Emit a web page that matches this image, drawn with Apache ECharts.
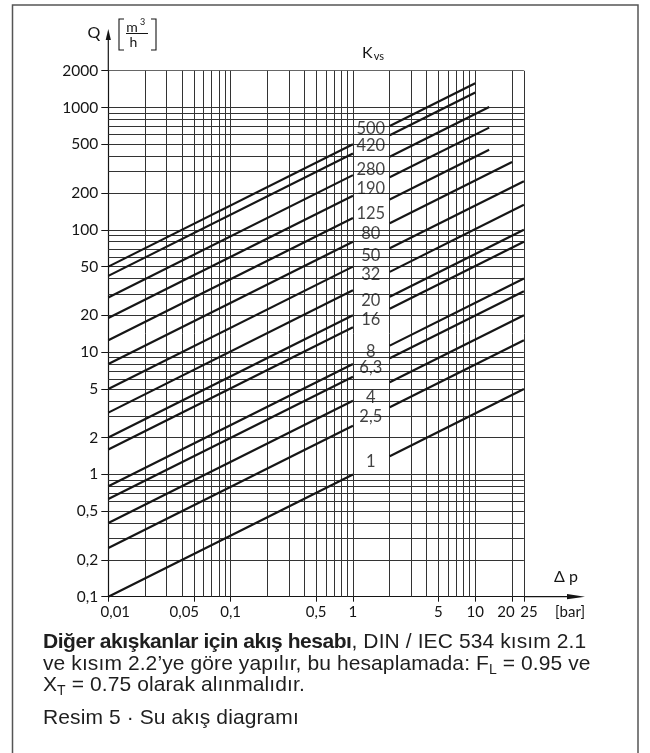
<!DOCTYPE html>
<html>
<head>
<meta charset="utf-8">
<script src="https://cdn.jsdelivr.net/npm/echarts@6/dist/echarts.min.js"></script>
<style>
  html, body { margin: 0; padding: 0; background: #fff; }
  #wrap { position: relative; width: 650px; height: 753px; }
  #chart { position: absolute; left: 0; top: 0; width: 650px; height: 753px; }
  .cap { position: absolute; left: 43px; font-family: 'Liberation Sans', Arial, sans-serif; font-size: 21px; line-height: 21.5px; color: #1e1e1e; white-space: nowrap; letter-spacing: 0.1px; }
  .cap b { letter-spacing: -0.45px; }
  .cap sub { font-size: 14px; vertical-align: -4px; line-height: 0; }
</style>
</head>
<body>
<div id="wrap">
  <div id="chart"></div>
  <div class="cap" style="top:630px"><b>Diğer akışkanlar için akış hesabı</b>, DIN / IEC 534 kısım 2.1<br>ve kısım 2.2’ye göre yapılır, bu hesaplamada: F<sub>L</sub> = 0.95 ve<br>X<sub>T</sub> = 0.75 olarak alınmalıdır.</div>
  <div class="cap" style="top:706px">Resim 5 · Su akış diagramı</div>
</div>
<script>
// ---- data ----
const dpTicks = [0.01, 0.05, 0.1, 0.5, 1, 5, 10, 20, 25];
const qTicks = [0.1, 0.2, 0.5, 1, 2, 5, 10, 20, 50, 100, 200, 500, 1000, 2000];
const dpGrid = [0.02, 0.03, 0.04, 0.05, 0.06, 0.07, 0.08, 0.09,
                0.1, 0.2, 0.3, 0.4, 0.5, 0.6, 0.7, 0.8, 0.9,
                1, 2, 3, 4, 5, 6, 7, 8, 9, 10, 20, 25];
const qGrid = [0.2, 0.3, 0.4, 0.5, 0.6, 0.7, 0.8, 0.9,
               1, 2, 3, 4, 5, 6, 7, 8, 9,
               10, 20, 30, 40, 50, 60, 70, 80, 90,
               100, 200, 300, 400, 500, 600, 700, 800, 900,
               1000, 2000];
const kvsLabels = ['500', '420', '280', '190', '125', '80', '50', '32', '20', '16', '8', '6,3', '4', '2,5', '1'];
const dpStart = 0.01, dpBreak = 1, dpRestart = 2;
const qStart   = [50, 42, 28, 19, 12.5, 8, 5, 3.2, 2, 1.6, 0.8, 0.63, 0.4, 0.25, 0.1];
const qBreak   = [500, 420, 280, 190, 125, 80, 50, 32, 20, 16, 8, 6.3, 4, 2.5, 1];
const qRestart = [707, 594, 396, 269, 177, 113, 70.7, 45.3, 28.3, 22.6, 11.3, 8.9, 5.66, 3.54, 1.41];
const dpEnd    = [10, 10, 13, 13, 13, 20, 25, 25, 25, 25, 25, 25, 25, 25, 25];
const qEnd     = [1581, 1328, 1010, 685, 451, 358, 250, 160, 100, 80, 40, 31.5, 20, 12.5, 5];
const labelDp = 1.4;
const labelQ   = [676, 488, 308, 218, 136, 93.5, 62, 42.7, 26.3, 18.3, 10.1, 7.5, 4.27, 2.97, 1.27];
const gapDp = [1.006, 1.99];
const gapQ = [1.03, 750];
const dpMin = 0.01, dpMax = 25, qMin = 0.1, qMax = 2000;

// ---- layout ----
const GL = 108.3, GT = 70.7, GW = 415.6, GH = 526;
const FONT = 'Lato, "Open Sans", sans-serif';
const INK = '#141414';

const gridCoords = [];
qGrid.forEach(v => gridCoords.push({ coords: [[dpMin, v], [dpMax, v]] }));
dpGrid.forEach(v => gridCoords.push({ coords: [[v, qMin], [v, qMax]] }));

const segs = [];
for (let i = 0; i < kvsLabels.length; i++) {
  segs.push({ coords: [[dpStart, qStart[i]], [dpBreak, qBreak[i]]] });
  segs.push({ coords: [[dpRestart, qRestart[i]], [dpEnd[i], qEnd[i]]] });
}

function fmtNum(v) {
  return String(+v.toPrecision(6)).replace('.', ',');
}

const chart = echarts.init(document.getElementById('chart'), null, { renderer: 'canvas' });

const xAx = GL + GW, yAx = GT + GH;

chart.setOption({
  animation: false,
  backgroundColor: '#fff',
  grid: { left: GL, top: GT, width: GW, height: GH, containLabel: false },
  xAxis: {
    type: 'log', logBase: 10, min: dpMin, max: dpMax,
    axisLine: { show: true, lineStyle: { color: INK, width: 1.2 } },
    axisTick: { show: true, customValues: dpTicks, length: 5, lineStyle: { color: INK, width: 1 } },
    axisLabel: {
      customValues: dpTicks, margin: 8, fontSize: 15, fontFamily: FONT, color: INK, hideOverlap: false,
      formatter: function (v) {
        const s = fmtNum(v);
        if (Math.abs(v - 0.01) < 1e-9) return '{a|' + s + '}';
        if (Math.abs(v - 0.05) < 1e-9) return '{b|' + s + '}';
        if (Math.abs(v - 20) < 1e-9) return '{c|' + s + '}';
        if (Math.abs(v - 25) < 1e-9) return '{d|' + s + '}';
        return s;
      },
      rich: {
        a: { padding: [0, 0, 0, 14], fontSize: 15, fontFamily: FONT, color: INK },
        b: { padding: [0, 19, 0, 0], fontSize: 15, fontFamily: FONT, color: INK },
        c: { padding: [0, 12, 0, 0], fontSize: 15, fontFamily: FONT, color: INK },
        d: { padding: [0, 0, 0, 10], fontSize: 15, fontFamily: FONT, color: INK }
      }
    },
    splitLine: { show: false }
  },
  yAxis: {
    type: 'log', logBase: 10, min: qMin, max: qMax,
    axisLine: { show: true, lineStyle: { color: INK, width: 1.2 } },
    axisTick: { show: true, customValues: qTicks, length: 7, lineStyle: { color: INK, width: 1 } },
    axisLabel: {
      customValues: qTicks, margin: 10, fontSize: 15.5, fontFamily: FONT, color: INK, hideOverlap: false,
      formatter: function (v) { return fmtNum(v); }
    },
    splitLine: { show: false }
  },
  series: [
    {
      type: 'lines', coordinateSystem: 'cartesian2d', silent: true, z: 1,
      lineStyle: { color: '#333', width: 1, opacity: 1 },
      data: gridCoords
    },
    {
      type: 'line', data: [], silent: true, z: 2,
      markArea: {
        silent: true,
        itemStyle: { color: '#fff', opacity: 1 },
        data: [[{ coord: [gapDp[0], gapQ[0]] }, { coord: [gapDp[1], gapQ[1]] }]]
      }
    },
    {
      type: 'lines', coordinateSystem: 'cartesian2d', silent: true, z: 3,
      lineStyle: { color: '#161616', width: 2.2, opacity: 1, cap: 'butt' },
      data: segs
    },
    {
      type: 'scatter', silent: true, z: 4, symbolSize: 0,
      data: labelQ.map(q => [labelDp, q]),
      label: {
        show: true, position: 'inside', fontSize: 16.5, fontFamily: FONT, color: INK,
        formatter: p => kvsLabels[p.dataIndex]
      }
    }
  ],
  graphic: [
    // frame
    { type: 'polyline', silent: true, shape: { points: [[12.5, 753], [12.5, 5], [638, 5], [638, 753]] },
      style: { stroke: '#555', lineWidth: 1.5, fill: null } },
    // y axis extension + arrow
    { type: 'line', silent: true, shape: { x1: GL, y1: GT, x2: GL, y2: 38 }, style: { stroke: INK, lineWidth: 1.2 } },
    { type: 'polygon', silent: true, shape: { points: [[GL, 29], [GL - 2.6, 40], [GL + 2.6, 40]] }, style: { fill: INK } },
    // x axis extension + arrow
    { type: 'line', silent: true, shape: { x1: xAx, y1: yAx, x2: 572, y2: yAx }, style: { stroke: INK, lineWidth: 1.2 } },
    { type: 'polygon', silent: true, shape: { points: [[585, yAx], [567, yAx - 2.6], [567, yAx + 2.6]] }, style: { fill: INK } },
    // Q [m3/h]
    { type: 'text', silent: true, style: { text: 'Q', x: 94, y: 33, align: 'center', verticalAlign: 'middle', font: '16px ' + FONT, fill: INK } },
    { type: 'polyline', silent: true, shape: { points: [[124, 19], [119, 19], [119, 50], [124, 50]] }, style: { stroke: INK, lineWidth: 1.1, fill: null } },
    { type: 'polyline', silent: true, shape: { points: [[151, 19], [156, 19], [156, 50], [151, 50]] }, style: { stroke: INK, lineWidth: 1.1, fill: null } },
    { type: 'line', silent: true, shape: { x1: 126, y1: 33.5, x2: 148, y2: 33.5 }, style: { stroke: INK, lineWidth: 1 } },
    { type: 'text', silent: true, style: { text: 'm', x: 132, y: 27, align: 'center', verticalAlign: 'middle', font: '14px ' + FONT, fill: INK } },
    { type: 'text', silent: true, style: { text: '3', x: 142.5, y: 22, align: 'center', verticalAlign: 'middle', font: '9px ' + FONT, fill: INK } },
    { type: 'text', silent: true, style: { text: 'h', x: 133.5, y: 42, align: 'center', verticalAlign: 'middle', font: '14px ' + FONT, fill: INK } },
    // Kvs
    { type: 'text', silent: true, style: { text: '{k|K}{s|vs}', x: 373, y: 53, align: 'center', verticalAlign: 'middle',
      rich: { k: { fontSize: 16, fontFamily: FONT, fill: INK }, s: { fontSize: 11, fontFamily: FONT, fill: INK, padding: [6, 0, 0, 1] } } } },
    // Δ p
    { type: 'text', silent: true, style: { text: 'Δ p', x: 566, y: 577, align: 'center', verticalAlign: 'middle', font: '16px ' + FONT, fill: INK } },
    // [bar]
    { type: 'text', silent: true, style: { text: '[bar]', x: 570, y: 612, align: 'center', verticalAlign: 'middle', font: '15px ' + FONT, fill: INK } }
  ]
});
</script>
</body>
</html>
